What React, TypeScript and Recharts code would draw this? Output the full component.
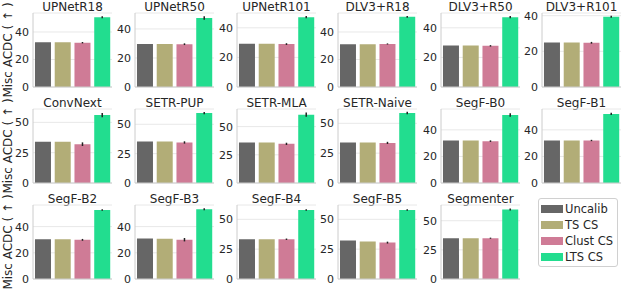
import React from 'react';
import { BarChart, Bar, Cell, XAxis, YAxis, CartesianGrid, ReferenceLine, ErrorBar } from 'recharts';

// model names, one small chart each (row-major, 6 per row)
const models = [
  'UPNetR18', 'UPNetR50', 'UPNetR101', 'DLV3+R18', 'DLV3+R50', 'DLV3+R101',
  'ConvNext', 'SETR-PUP', 'SETR-MLA', 'SETR-Naive', 'SegF-B0', 'SegF-B1',
  'SegF-B2', 'SegF-B3', 'SegF-B4', 'SegF-B5', 'Segmenter',
];

const seriesNames = ['Uncalib', 'TS CS', 'Clust CS', 'LTS CS'];
const seriesColors = ['#666666', '#b2ad77', '#cf7b96', '#22dd8f'];

// Misc ACDC values
const uncalib = [32.5, 29.6, 29.2, 31.0, 28.0, 25.0, 34.0, 35.3, 36.0, 34.0, 32.0, 32.0, 30.4, 31.0, 33.3, 32.2, 35.0];
const tsCS = [32.5, 29.6, 29.2, 31.0, 28.0, 25.0, 34.0, 35.3, 36.0, 34.0, 32.0, 32.0, 30.4, 30.8, 33.2, 31.4, 35.0];
const clustCS = [32.2, 29.5, 29.0, 31.3, 27.8, 24.8, 32.0, 34.5, 34.7, 33.6, 31.5, 32.0, 29.9, 30.0, 33.3, 30.5, 35.0];
const ltsCS = [50.7, 47.6, 47.2, 51.0, 47.2, 39.4, 56.0, 59.5, 60.6, 58.6, 51.2, 52.0, 52.7, 53.2, 57.8, 57.8, 59.7];

// error bar half-lengths
const clustErr = [0.5, 0.6, 0.6, 0.4, 0.5, 0.5, 1.5, 1.0, 1.0, 0.9, 0.6, 0.5, 0.7, 1.3, 0.6, 0.8, 0.5];
const ltsErr = [0.8, 1.2, 0.8, 0.7, 0.7, 0.6, 1.8, 1.0, 1.8, 1.0, 1.3, 0.9, 0.6, 0.8, 0.7, 0.7, 0.9];

// per-panel y axis top and ticks
const yMax = [53.8, 51, 50, 53.8, 50, 41.5, 61, 63, 65.6, 62, 55.7, 55.7, 56.5, 56.5, 62, 62, 63.5];
const ticks20 = [0, 20, 40];
const ticks25 = [0, 25, 50];
const yTicks = [
  ticks20, ticks20, ticks20, ticks20, ticks20, ticks20,
  ticks25, ticks25, ticks25, ticks25, ticks20, ticks20,
  ticks20, ticks20, ticks25, ticks25, ticks25,
];

const colX = [33, 135, 237, 338, 441, 542];
const rowTop = [13, 109, 205];
const rowBottom = [87, 183, 279];
const plotW = 79;
const axisW = 26;
const pad = 6;
const font = '"DejaVu Sans", sans-serif';
const textColor = '#262626';

const Panel = ({ idx }: { idx: number }) => {
  const row = Math.floor(idx / 6);
  const col = idx % 6;
  const top = rowTop[row];
  const bottom = rowBottom[row];
  const data = [
    { name: seriesNames[0], value: uncalib[idx], err: 0 },
    { name: seriesNames[1], value: tsCS[idx], err: 0 },
    { name: seriesNames[2], value: clustCS[idx], err: clustErr[idx] },
    { name: seriesNames[3], value: ltsCS[idx], err: ltsErr[idx] },
  ];
  return (
    <>
      <div
        style={{
          position: 'absolute', left: colX[col] - 10, top: top - 12, width: plotW + 20,
          textAlign: 'center', fontSize: 12, lineHeight: '12px', fontFamily: font, color: textColor,
          whiteSpace: 'nowrap',
        }}
      >
        {models[idx]}
      </div>
      <div style={{ position: 'absolute', left: colX[col] - axisW, top: top - pad }}>
        <BarChart
          width={axisW + plotW + 2}
          height={bottom - top + pad * 2}
          data={data}
          margin={{ top: pad, right: 2, bottom: pad, left: 0 }}
          barCategoryGap="10%"
        >
          <CartesianGrid vertical={false} stroke="#e8e8e8" />
          <XAxis dataKey="name" hide />
          <YAxis
            type="number"
            domain={[0, yMax[idx]]}
            ticks={yTicks[idx]}
            interval={0}
            allowDataOverflow
            width={axisW}
            tickSize={0}
            tickMargin={4}
            tickLine={false}
            axisLine={{ stroke: '#cccccc' }}
            tick={{ fontSize: 11, fill: textColor, fontFamily: font }}
          />
          <ReferenceLine y={0} stroke="#cccccc" />
          <Bar dataKey="value" isAnimationActive={false}>
            {data.map((d, i) => (
              <Cell key={d.name} fill={seriesColors[i]} />
            ))}
            <ErrorBar dataKey="err" width={0} stroke="#222" strokeWidth={1.5} direction="y" />
          </Bar>
        </BarChart>
      </div>
    </>
  );
};

const App = () => {
  return (
    <div
      style={{
        position: 'absolute', left: 0, top: 0, width: 623, height: 292,
        background: '#fff', overflow: 'hidden', fontFamily: font,
      }}
    >
      {rowTop.map((t, r) => (
        <div
          key={r}
          style={{
            position: 'absolute', left: 8 - 50, top: (t + rowBottom[r]) / 2 - 7, width: 100, height: 14,
            transform: 'rotate(-90deg)', textAlign: 'center', fontSize: 12, lineHeight: '14px',
            color: textColor, whiteSpace: 'nowrap',
          }}
        >
          Misc ACDC ( ↑ )
        </div>
      ))}
      {models.map((m, i) => (
        <Panel key={m} idx={i} />
      ))}
      <div
        style={{
          position: 'absolute', left: 538, top: 198, width: 80, height: 69,
          border: '1px solid #d0d0d0', borderRadius: 3, boxSizing: 'border-box',
          padding: '2px 0 0 2px',
        }}
      >
        {seriesNames.map((s, i) => (
          <div key={s} style={{ display: 'flex', alignItems: 'center', height: 16, whiteSpace: 'nowrap' }}>
            <div style={{ width: 22, height: 8, background: seriesColors[i], marginRight: 2, flexShrink: 0 }} />
            <span style={{ fontSize: 11.5, color: textColor, lineHeight: '14px' }}>{s}</span>
          </div>
        ))}
      </div>
    </div>
  );
};

export default App;
